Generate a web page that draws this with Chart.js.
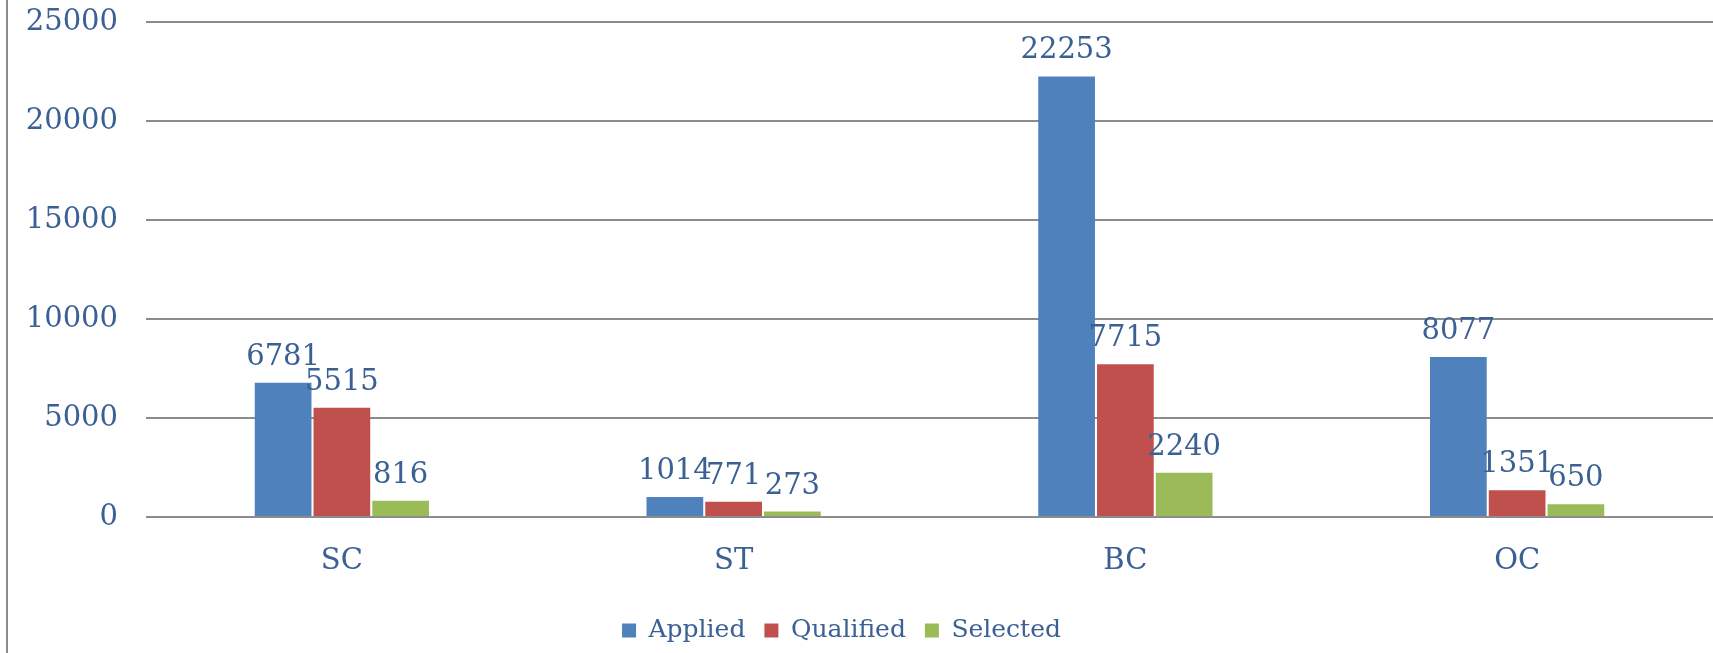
<!DOCTYPE html>
<html lang="en">
<head>
  <meta charset="utf-8" />
  <title>Applied / Qualified / Selected by category</title>
  <script src="https://cdn.jsdelivr.net/npm/chart.js@4.4.1/dist/chart.umd.min.js"></script>
  <style>
    html, body { margin: 0; padding: 0; background: #fff; }
    .wrap { position: relative; width: 1713px; height: 653px; }
    .frame { position: absolute; left: 6px; top: 0; width: 2px; height: 653px; background: #8c8c8c; }
    canvas { position: absolute; left: 0; top: 0; }
  </style>
</head>
<body>
  <div class="wrap">
    <canvas id="c" width="1713" height="653"></canvas>
    <div class="frame"></div>
  </div>

  <script>
    const categories = ['SC', 'ST', 'BC', 'OC'];
    const applied = [6781, 1014, 22253, 8077];
    const qualified = [5515, 771, 7715, 1351];
    const selected = [816, 273, 2240, 650];
    const yTicks = [0, 5000, 10000, 15000, 20000, 25000];

    const TEXT = '#3a6094';
    const FONT = "'DejaVu Serif', 'Liberation Serif', serif";

    // etiquetas de valor encima de cada barra
    const valueLabels = {
      id: 'valueLabels',
      afterDatasetsDraw(chart) {
        const ctx = chart.ctx;
        ctx.save();
        ctx.fillStyle = TEXT;
        ctx.font = '29px ' + FONT;
        ctx.textAlign = 'center';
        ctx.textBaseline = 'alphabetic';
        chart.data.datasets.forEach((ds, i) => {
          chart.getDatasetMeta(i).data.forEach((bar, j) => {
            ctx.fillText(String(ds.data[j]), bar.x, bar.y - 18);
          });
        });
        ctx.restore();
      }
    };

    // la leyenda del original queda un poco a la izquierda del centro
    const legendShift = {
      id: 'legendShift',
      afterLayout(chart) {
        chart.legend.left -= 15;
        chart.legend.right -= 15;
      }
    };

    Chart.defaults.font.family = FONT;
    Chart.defaults.color = TEXT;

    new Chart(document.getElementById('c'), {
      type: 'bar',
      data: {
        labels: categories,
        datasets: [
          { label: 'Applied', data: applied, backgroundColor: '#4f81bd' },
          { label: 'Qualified', data: qualified, backgroundColor: '#c0504d' },
          { label: 'Selected', data: selected, backgroundColor: '#9bbb59' }
        ]
      },
      options: {
        responsive: false,
        animation: false,
        layout: { padding: 0 },
        datasets: { bar: { categoryPercentage: 0.45, barPercentage: 0.965 } },
        plugins: {
          legend: {
            position: 'bottom',
            labels: { boxWidth: 14, boxHeight: 14, padding: 19, font: { size: 25 }, color: TEXT }
          },
          tooltip: { enabled: false }
        },
        scales: {
          x: {
            grid: { display: false },
            border: { display: false },
            ticks: { padding: 19, font: { size: 29 }, color: TEXT },
            afterFit(s) { s.height = 82; }
          },
          y: {
            min: 0,
            max: 25000,
            afterBuildTicks(s) { s.ticks = yTicks.map((v) => ({ value: v })); },
            grid: { color: '#8c8c8c', lineWidth: 2, drawTicks: false },
            border: { display: false },
            ticks: { padding: 28, font: { size: 29 }, color: TEXT, callback: (v) => String(v) },
            afterFit(s) {
              s.width = 146;
              s.paddingTop = 22;
              s.paddingBottom = 0;
            }
          }
        }
      },
      plugins: [valueLabels, legendShift]
    });
  </script>
</body>
</html>
